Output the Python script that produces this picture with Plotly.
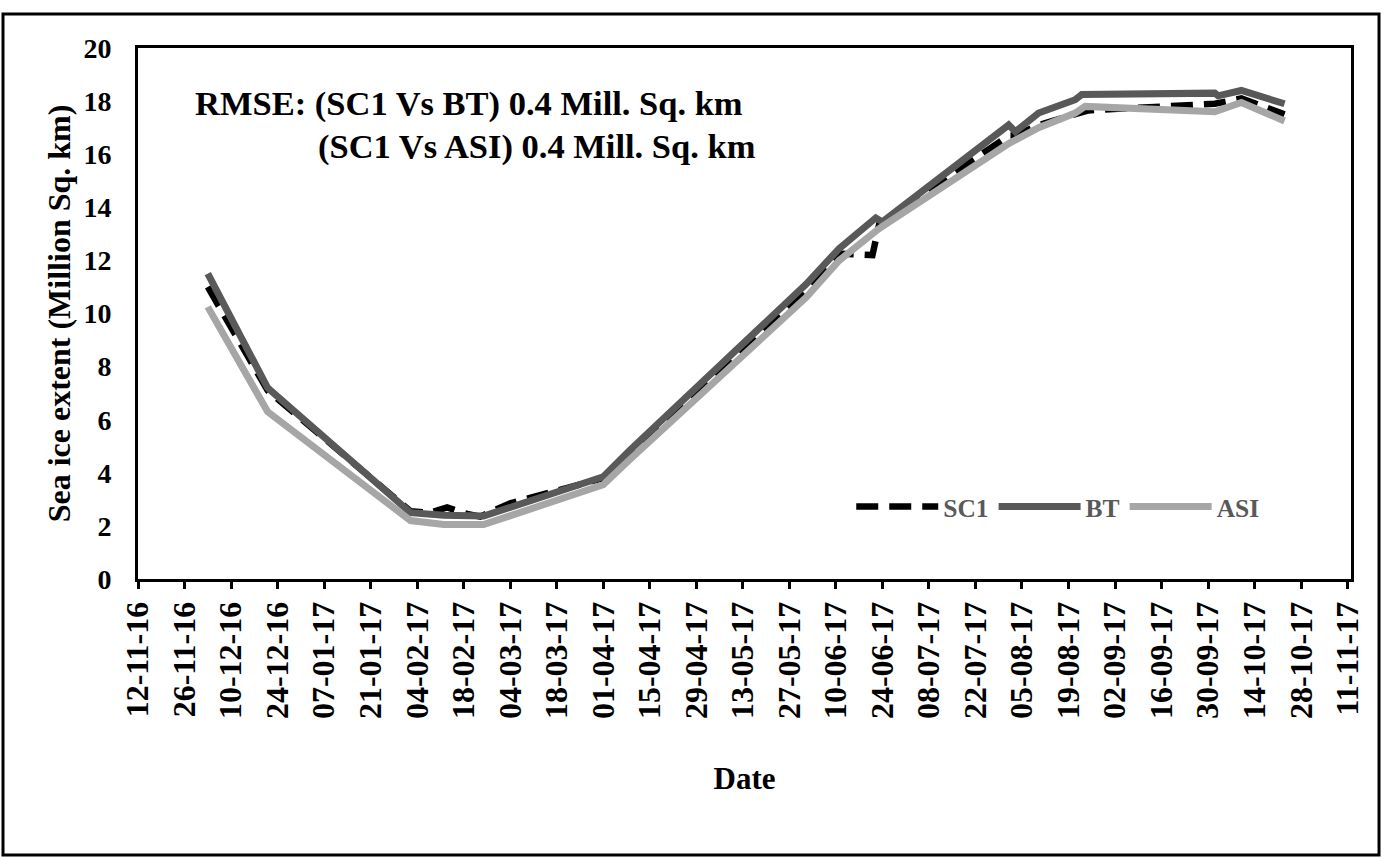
import plotly.graph_objects as go

# ---- data ----
sc1_dates = ["2016-12-03", "2016-12-21", "2017-02-02", "2017-02-08", "2017-02-13", "2017-02-19",
             "2017-02-23", "2017-02-26", "2017-03-04", "2017-04-01", "2017-04-09", "2017-06-01",
             "2017-06-12", "2017-06-21", "2017-06-23", "2017-08-01", "2017-08-03", "2017-08-10",
             "2017-08-21", "2017-08-25", "2017-10-02", "2017-10-10", "2017-10-23"]
sc1_vals = [11.0, 7.1, 2.55, 2.5, 2.7, 2.45, 2.35, 2.5, 2.85, 3.8, 4.7, 10.9,
            12.25, 12.2, 13.35, 16.7, 16.7, 17.1, 17.5, 17.65, 17.9, 18.1, 17.5]

bt_dates = ["2016-12-03", "2016-12-21", "2017-02-02", "2017-02-12", "2017-02-24", "2017-04-01",
            "2017-04-09", "2017-06-01", "2017-06-11", "2017-06-22", "2017-06-24", "2017-08-01",
            "2017-08-03", "2017-08-10", "2017-08-21", "2017-08-23", "2017-10-02", "2017-10-03",
            "2017-10-10", "2017-10-23"]
bt_vals = [11.5, 7.2, 2.5, 2.4, 2.37, 3.85, 4.85, 11.1, 12.45, 13.6, 13.45, 17.1,
           16.85, 17.55, 18.05, 18.25, 18.3, 18.2, 18.4, 17.9]

asi_dates = ["2016-12-03", "2016-12-21", "2017-02-02", "2017-02-12", "2017-02-24", "2017-04-01",
             "2017-04-09", "2017-06-01", "2017-06-11", "2017-06-23", "2017-08-01", "2017-08-10",
             "2017-08-21", "2017-08-24", "2017-10-02", "2017-10-10", "2017-10-23"]
asi_vals = [10.25, 6.3, 2.2, 2.05, 2.05, 3.55, 4.5, 10.6, 12.0, 13.2, 16.4, 17.0,
            17.55, 17.8, 17.6, 17.95, 17.25]

x_range = ["2016-11-12", "2017-11-12"]
tick_start = "2016-11-12"
tick_step_days = 14

annot_line1 = "RMSE: (SC1 Vs BT) 0.4 Mill. Sq. km"
annot_line2 = "(SC1 Vs ASI) 0.4 Mill. Sq. km"

FONT = "Liberation Serif, Times New Roman, serif"

fig = go.Figure()
fig.add_trace(go.Scatter(x=sc1_dates, y=sc1_vals, name="SC1", mode="lines",
                         line=dict(color="black", width=6.5, dash="22px,11px")))
fig.add_trace(go.Scatter(x=bt_dates, y=bt_vals, name="BT", mode="lines",
                         line=dict(color="#595959", width=7)))
fig.add_trace(go.Scatter(x=asi_dates, y=asi_vals, name="ASI", mode="lines",
                         line=dict(color="#a6a6a6", width=7)))

fig.update_layout(
    width=1382, height=858,
    margin=dict(l=138, r=31, t=48, b=279, autoexpand=False),
    paper_bgcolor="white", plot_bgcolor="white",
    font=dict(family=FONT, color="black", weight="bold"),
    showlegend=True,
    legend=dict(orientation="h", x=0.588, y=0.1356, xanchor="left", yanchor="middle",
                font=dict(family=FONT, size=25.5, color="#595959", weight="bold"),
                bgcolor="rgba(0,0,0,0)", itemwidth=82, tracegroupgap=0),
    xaxis=dict(type="date", range=x_range, tick0=tick_start,
               dtick=tick_step_days * 86400000, tickformat="%d-%m-%y",
               tickangle=-90, ticks="outside", ticklen=7, tickwidth=3, tickcolor="black",
               showline=True, linewidth=3, linecolor="black", mirror=True,
               showgrid=False, zeroline=False,
               tickfont=dict(family=FONT, size=32, color="black", weight="bold"),
               title=dict(text="Date", standoff=50,
                          font=dict(family=FONT, size=31, color="black", weight="bold"))),
    yaxis=dict(range=[0, 20], dtick=2, ticks="", showline=True, linewidth=3,
               linecolor="black", mirror=True, showgrid=False, zeroline=False,
               ticklabelstandoff=18,
               tickfont=dict(family=FONT, size=28, color="black", weight="bold"),
               title=dict(text="Sea ice extent (Million Sq. km)", standoff=4,
                          font=dict(family=FONT, size=32, color="black", weight="bold"))),
    annotations=[
        dict(text=annot_line1, xref="paper", yref="paper", x=0.0453, y=0.896,
             xanchor="left", yanchor="middle", showarrow=False,
             font=dict(family=FONT, size=34.5, color="black", weight="bold")),
        dict(text=annot_line2, xref="paper", yref="paper", x=0.1467, y=0.8136,
             xanchor="left", yanchor="middle", showarrow=False,
             font=dict(family=FONT, size=34.5, color="black", weight="bold")),
    ],
    shapes=[dict(type="rect", xref="paper", yref="paper", x0=-0.1113, x1=1.0231,
                 y0=-0.5198, y1=1.064, line=dict(color="black", width=3),
                 fillcolor="rgba(0,0,0,0)", layer="above")],
)

fig.write_html("out.html", config={"displayModeBar": False},
               post_script="document.body.style.margin='0';document.body.style.overflow='hidden';")
